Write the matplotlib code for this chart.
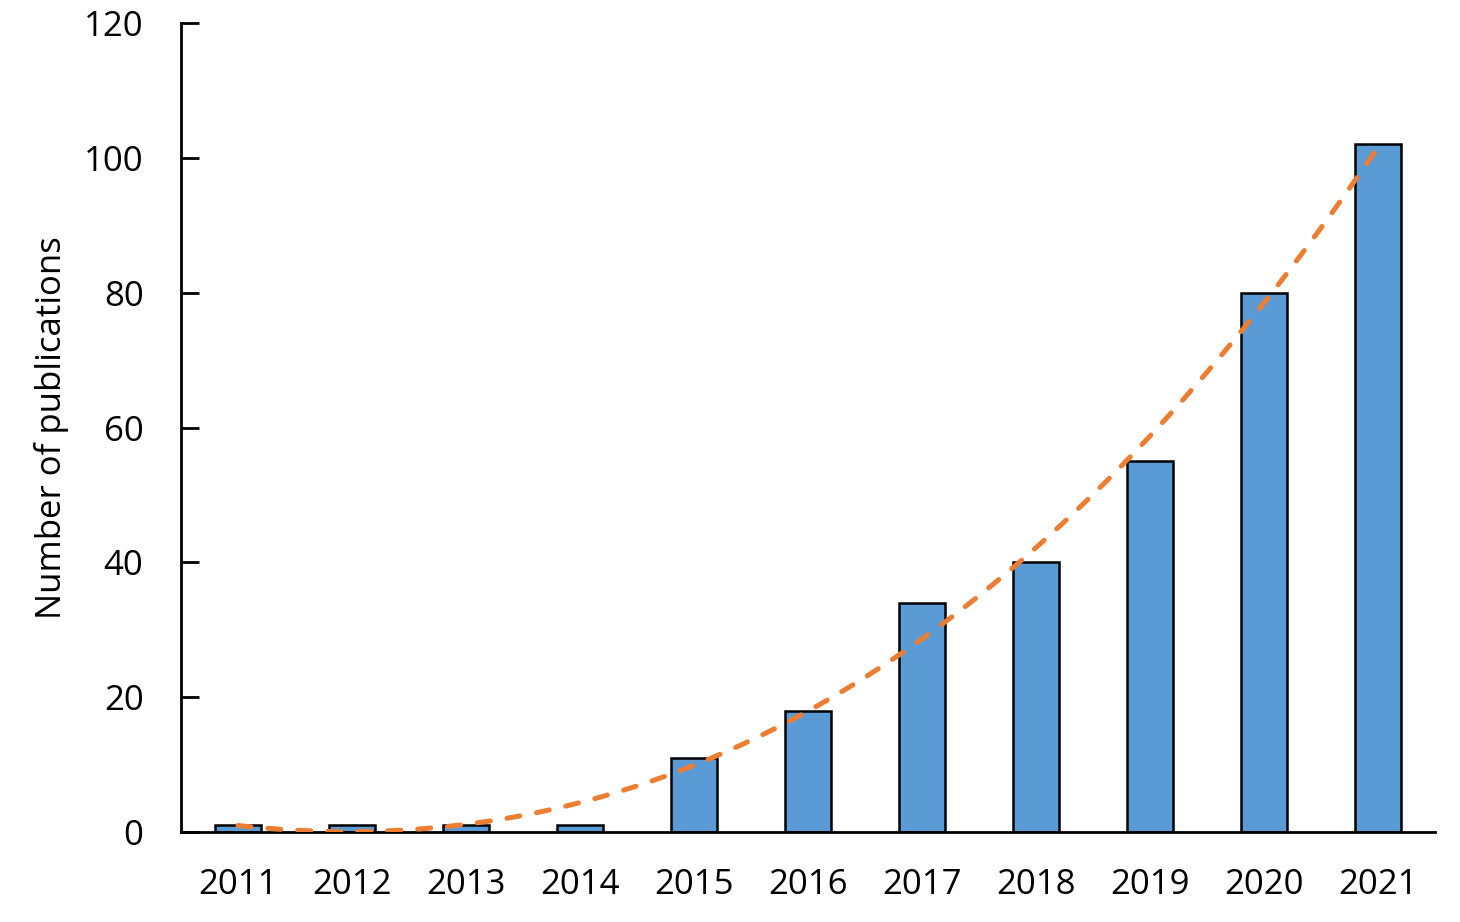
import numpy as np
import matplotlib
matplotlib.use('Agg')
import matplotlib.pyplot as plt

years = ['2011', '2012', '2013', '2014', '2015', '2016', '2017', '2018', '2019', '2020', '2021']
counts = [1, 1, 1, 1, 11, 18, 34, 40, 55, 80, 102]

plt.rcParams['font.family'] = ['Open Sans', 'DejaVu Sans']

fig = plt.figure(figsize=(14.6, 9.22), dpi=100)
ax = fig.add_axes([181 / 1460, 90 / 922, (1435 - 181) / 1460, (832 - 23) / 922])

x = np.arange(len(years))
ax.bar(x, counts, width=0.4, color='#5B9BD5', edgecolor='black', linewidth=1.8, zorder=2)

# polynomial trendline fitted to the counts
coef = np.polyfit(x, counts, 3)
xs = np.linspace(x[0], x[-1], 300)
ax.plot(xs, np.polyval(coef, xs), color='#ED7D31', linestyle=(0, (2.6, 3.4)),
        dash_capstyle='round', linewidth=3.6, zorder=3)

ax.set_xlim(-0.5, len(years) - 0.5)
ax.set_ylim(0, 120)
ax.set_yticks(range(0, 121, 20))
ax.set_xticks(x)
ax.set_xticklabels(years)

for s in ['top', 'right']:
    ax.spines[s].set_visible(False)
for s in ['left', 'bottom']:
    ax.spines[s].set_linewidth(2)

ax.tick_params(axis='y', direction='in', length=13, width=2, labelsize=25, pad=27)
ax.tick_params(axis='x', length=0, labelsize=25, pad=26)
ax.set_ylabel('Number of publications', fontsize=25, labelpad=11)

fig.savefig('out.png', dpi=100)
